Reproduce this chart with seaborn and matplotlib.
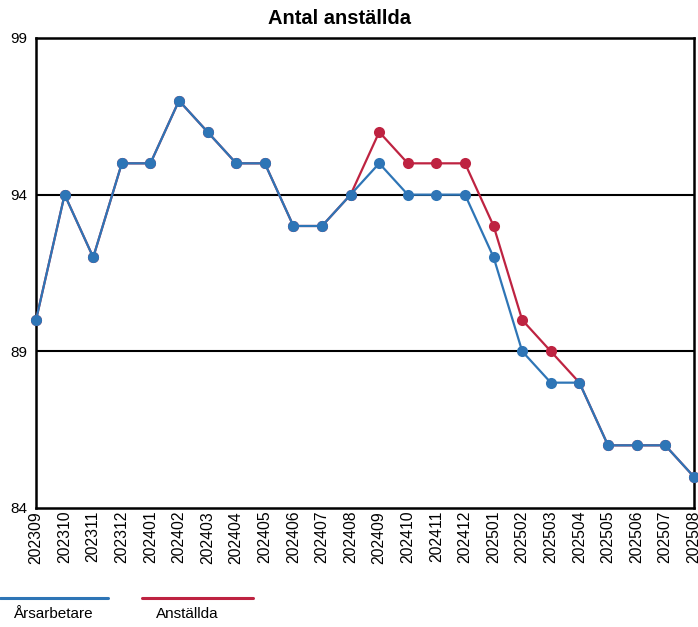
import pandas as pd
import matplotlib.pyplot as plt
import seaborn as sns
from matplotlib.lines import Line2D

months = ['202309', '202310', '202311', '202312', '202401', '202402', '202403', '202404',
          '202405', '202406', '202407', '202408', '202409', '202410', '202411', '202412',
          '202501', '202502', '202503', '202504', '202505', '202506', '202507', '202508']
arsarbetare = [90, 94, 92, 95, 95, 97, 96, 95, 95, 93, 93, 94,
               95, 94, 94, 94, 92, 89, 88, 88, 86, 86, 86, 85]
anstallda = [90, 94, 92, 95, 95, 97, 96, 95, 95, 93, 93, 94,
             96, 95, 95, 95, 93, 90, 89, 88, 86, 86, 86, 85]
y_ticks = [84, 89, 94, 99]

blue = '#2E75B6'
red = '#BE2341'

sns.set_style('white')
plt.rcParams['font.family'] = ['Liberation Sans', 'DejaVu Sans']
plt.rcParams['text.color'] = 'black'
plt.rcParams['xtick.color'] = 'black'
plt.rcParams['ytick.color'] = 'black'

df = pd.DataFrame({'month': months, 'Årsarbetare': arsarbetare, 'Anställda': anstallda})

fig = plt.figure(figsize=(6.98, 6.27), dpi=100)
ax = fig.add_axes([0.0516, 0.1898, 0.9424, 0.7496])

for yv in [89, 94]:
    ax.axhline(yv, color='black', lw=1.5, zorder=1)

sns.lineplot(data=df, x='month', y='Anställda', ax=ax, color=red, lw=1.6,
             marker='o', markersize=8, markeredgewidth=0, clip_on=False, zorder=3)
sns.lineplot(data=df, x='month', y='Årsarbetare', ax=ax, color=blue, lw=1.6,
             marker='o', markersize=8, markeredgewidth=0, clip_on=False, zorder=4)

ax.set_xlim(0, len(months) - 1)
ax.set_ylim(84, 99)
ax.set_yticks(y_ticks)
ax.set_yticklabels([str(v) for v in y_ticks], fontsize=11)
ax.set_xticks(range(len(months)))
ax.set_xticklabels(months, rotation=90, fontsize=11.3)
ax.tick_params(axis='x', length=0, pad=2)
ax.tick_params(axis='y', length=0, pad=6)
ax.set_xlabel('')
ax.set_ylabel('')
for s in ax.spines.values():
    s.set_color('black')
    s.set_linewidth(1.8)

fig.text(0.487, 0.970, 'Antal anställda', ha='center', va='center',
         fontsize=14.5, fontweight='bold')

# legend: line with label under it
fig.add_artist(Line2D([0.0, 0.155], [0.046, 0.046], color=blue, lw=2.2))
fig.add_artist(Line2D([0.203, 0.362], [0.046, 0.046], color=red, lw=2.2))
fig.text(0.018, 0.020, 'Årsarbetare', fontsize=11, va='center')
fig.text(0.223, 0.020, 'Anställda', fontsize=11, va='center')

fig.savefig('out.png', dpi=100)
